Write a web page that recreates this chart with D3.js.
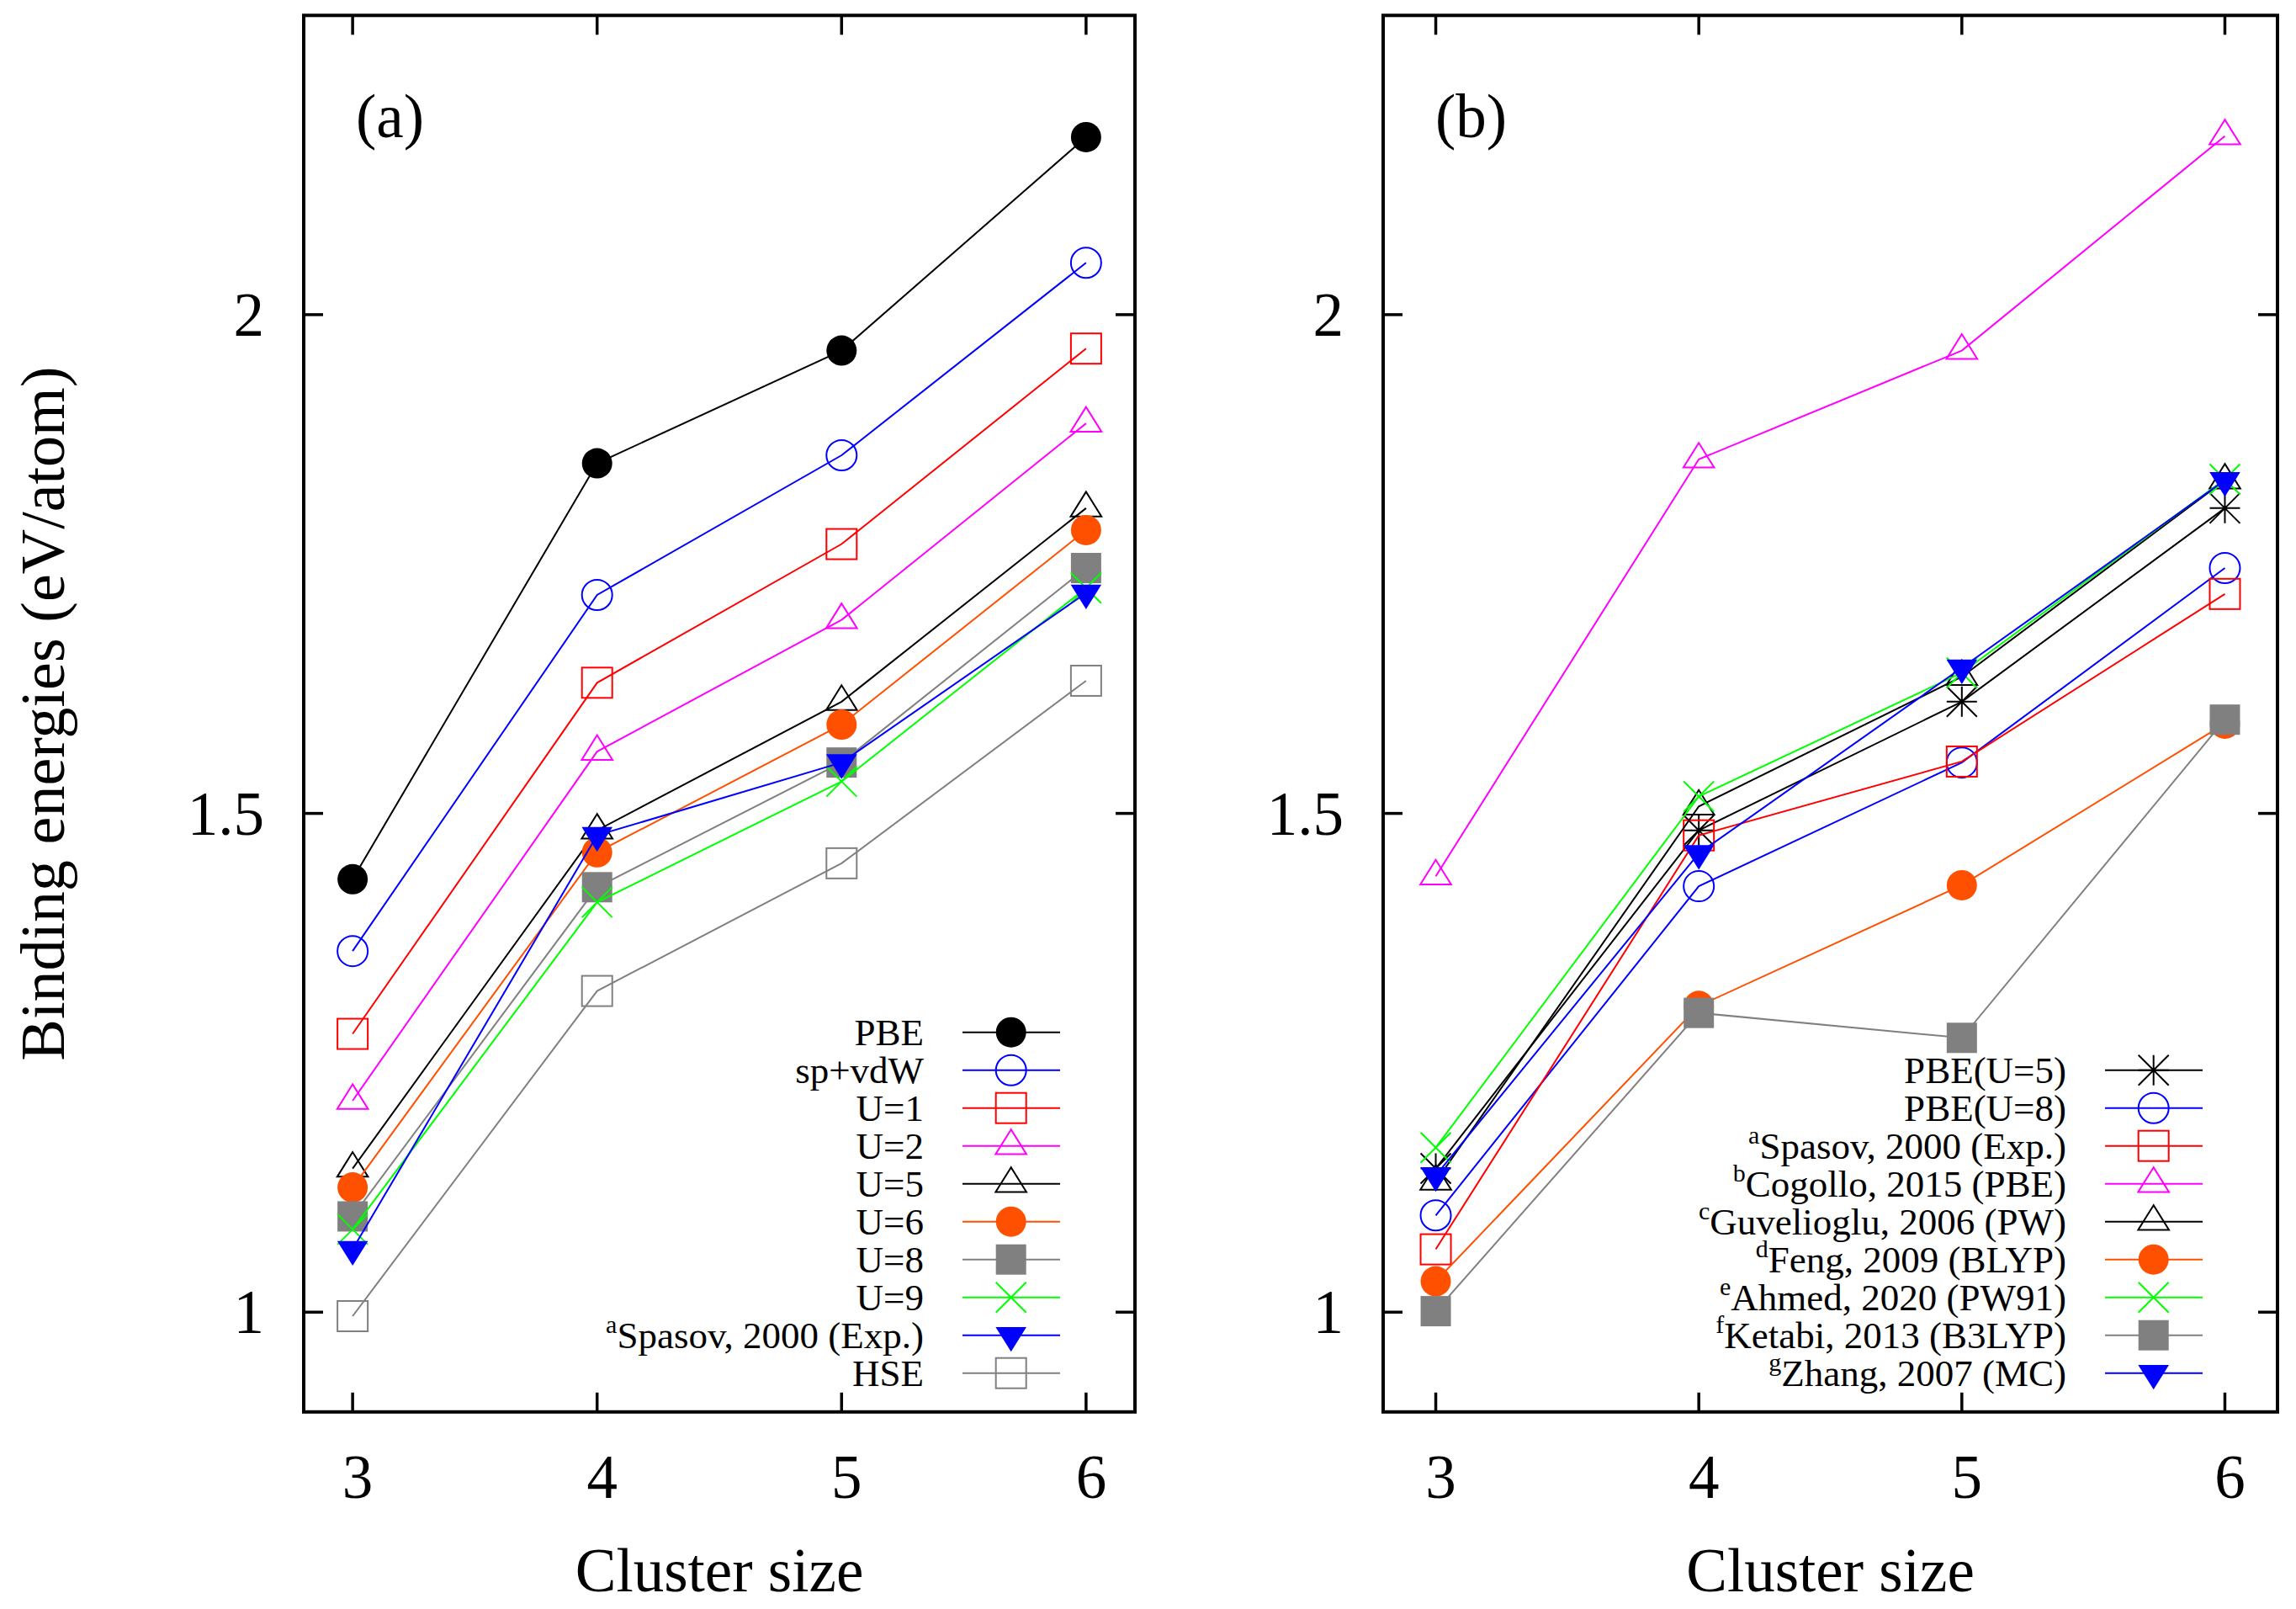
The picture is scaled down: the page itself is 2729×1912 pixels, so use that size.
<!DOCTYPE html>
<html>
<head>
<meta charset="utf-8">
<script src="https://cdn.jsdelivr.net/npm/d3@7"></script>
<style>
  html, body { margin: 0; padding: 0; background: #fff; }
  svg { display: block; }
  text { font-family: "Liberation Serif", "Times New Roman", serif; fill: #000; }
</style>
</head>
<body>
<script>
// ---------------- DATA ----------------
const clusterSizes = [3, 4, 5, 6];
const xTicks = [3, 4, 5, 6];
const yTicks = [1, 1.5, 2];
const yTickLabels = ["1", "1.5", "2"];

// Panel (a)
const pbe      = [1.434, 1.851, 1.964, 2.178];
const spvdw    = [1.362, 1.719, 1.859, 2.052];
const u1       = [1.279, 1.631, 1.770, 1.966];
const u2       = [1.212, 1.562, 1.694, 1.891];
const u5       = [1.144, 1.483, 1.612, 1.806];
const u6       = [1.125, 1.461, 1.589, 1.784];
const u8       = [1.096, 1.426, 1.551, 1.746];
const u9       = [1.083, 1.411, 1.532, 1.726];
const spasovA  = [1.063, 1.478, 1.551, 1.721];
const hse      = [0.996, 1.322, 1.450, 1.633];

// Panel (b)
const pbeU5      = [1.144, 1.483, 1.612, 1.806];
const pbeU8      = [1.097, 1.427, 1.551, 1.746];
const spasovB    = [1.063, 1.478, 1.552, 1.720];
const cogollo    = [1.437, 1.855, 1.964, 2.179];
const guvelioglu = [1.131, 1.507, 1.637, 1.834];
const feng       = [1.031, 1.307, 1.428, 1.590];
const ahmed      = [1.165, 1.517, 1.641, 1.835];
const ketabi     = [1.001, 1.300, 1.275, 1.594];
const zhang      = [1.137, 1.460, 1.646, 1.834];

const seriesA = [
  { sup: "",  label: "PBE",                 values: pbe,     color: "#000000", marker: "circleFilled" },
  { sup: "",  label: "sp+vdW",              values: spvdw,   color: "#0000ff", marker: "circleOpen" },
  { sup: "",  label: "U=1",                 values: u1,      color: "#ff0000", marker: "squareOpen" },
  { sup: "",  label: "U=2",                 values: u2,      color: "#ff00ff", marker: "triUp" },
  { sup: "",  label: "U=5",                 values: u5,      color: "#000000", marker: "triUp" },
  { sup: "",  label: "U=6",                 values: u6,      color: "#ff5000", marker: "circleFilled" },
  { sup: "",  label: "U=8",                 values: u8,      color: "#808080", marker: "squareFilled" },
  { sup: "",  label: "U=9",                 values: u9,      color: "#00ff00", marker: "cross" },
  { sup: "a", label: "Spasov, 2000 (Exp.)", values: spasovA, color: "#0000ff", marker: "triDownFilled" },
  { sup: "",  label: "HSE",                 values: hse,     color: "#808080", marker: "squareOpen" }
];

const seriesB = [
  { sup: "",  label: "PBE(U=5)",              values: pbeU5,      color: "#000000", marker: "star" },
  { sup: "",  label: "PBE(U=8)",              values: pbeU8,      color: "#0000ff", marker: "circleOpen" },
  { sup: "a", label: "Spasov, 2000 (Exp.)",   values: spasovB,    color: "#ff0000", marker: "squareOpen" },
  { sup: "b", label: "Cogollo, 2015 (PBE)",   values: cogollo,    color: "#ff00ff", marker: "triUp" },
  { sup: "c", label: "Guvelioglu, 2006 (PW)", values: guvelioglu, color: "#000000", marker: "triUp" },
  { sup: "d", label: "Feng, 2009 (BLYP)",     values: feng,       color: "#ff5000", marker: "circleFilled" },
  { sup: "e", label: "Ahmed, 2020 (PW91)",    values: ahmed,      color: "#00ff00", marker: "cross" },
  { sup: "f", label: "Ketabi, 2013 (B3LYP)",  values: ketabi,     color: "#808080", marker: "squareFilled" },
  { sup: "g", label: "Zhang, 2007 (MC)",      values: zhang,      color: "#0000ff", marker: "triDownFilled" }
];

// ---------------- LAYOUT ----------------
const W = 2729, H = 1912;
const plotTop = 18.3, plotBottom = 1677.8;
const panels = [
  { left: 361, right: 1349, tag: "(a)", series: seriesA },
  { left: 1644, right: 2707, tag: "(b)", series: seriesB }
];
const tickFont = 73, legendFont = 45, supFont = 30;
const tickLen = 23;
const frameW = 4;

const svg = d3.select("body").append("svg")
  .attr("width", W).attr("height", H)
  .attr("viewBox", `0 0 ${W} ${H}`);
svg.append("rect").attr("width", W).attr("height", H).attr("fill", "#fff");

const y = d3.scaleLinear().domain([0.9, 2.3]).range([plotBottom, plotTop]);

function drawMarker(g, type, color, cx, cy) {
  const r = 18, sw = 2;
  switch (type) {
    case "circleFilled":
      g.append("circle").attr("cx", cx).attr("cy", cy).attr("r", r).attr("fill", color);
      break;
    case "circleOpen":
      g.append("circle").attr("cx", cx).attr("cy", cy).attr("r", r)
        .attr("fill", "none").attr("stroke", color).attr("stroke-width", sw);
      break;
    case "squareOpen":
      g.append("rect").attr("x", cx - r).attr("y", cy - r).attr("width", 2 * r).attr("height", 2 * r)
        .attr("fill", "none").attr("stroke", color).attr("stroke-width", sw);
      break;
    case "squareFilled":
      g.append("rect").attr("x", cx - r).attr("y", cy - r).attr("width", 2 * r).attr("height", 2 * r)
        .attr("fill", color);
      break;
    case "triUp":
      g.append("polygon")
        .attr("points", `${cx},${cy - 19.5} ${cx - 18.3},${cy + 9.8} ${cx + 18.3},${cy + 9.8}`)
        .attr("fill", "none").attr("stroke", color).attr("stroke-width", sw).attr("stroke-linejoin", "miter");
      break;
    case "triDownFilled":
      g.append("polygon")
        .attr("points", `${cx - 18.3},${cy - 9.8} ${cx + 18.3},${cy - 9.8} ${cx},${cy + 19.5}`)
        .attr("fill", color);
      break;
    case "cross":
      g.append("path").attr("d", `M${cx - r},${cy - r}L${cx + r},${cy + r}M${cx - r},${cy + r}L${cx + r},${cy - r}`)
        .attr("stroke", color).attr("stroke-width", sw).attr("fill", "none");
      break;
    case "star":
      g.append("path").attr("d",
        `M${cx - r},${cy - r}L${cx + r},${cy + r}M${cx - r},${cy + r}L${cx + r},${cy - r}` +
        `M${cx},${cy - r}L${cx},${cy + r}M${cx - r},${cy}L${cx + r},${cy}`)
        .attr("stroke", color).attr("stroke-width", sw).attr("fill", "none");
      break;
  }
}

panels.forEach((p, pi) => {
  const x = d3.scaleLinear().domain([2.8, 6.2]).range([p.left, p.right]);
  const g = svg.append("g");

  // ticks (inside, mirrored)
  const tg = g.append("g").attr("stroke", "#000").attr("stroke-width", 3.5);
  xTicks.forEach(t => {
    tg.append("line").attr("x1", x(t)).attr("x2", x(t)).attr("y1", plotBottom).attr("y2", plotBottom - tickLen);
    tg.append("line").attr("x1", x(t)).attr("x2", x(t)).attr("y1", plotTop).attr("y2", plotTop + tickLen);
  });
  yTicks.forEach(t => {
    tg.append("line").attr("x1", p.left).attr("x2", p.left + tickLen).attr("y1", y(t)).attr("y2", y(t));
    tg.append("line").attr("x1", p.right).attr("x2", p.right - tickLen).attr("y1", y(t)).attr("y2", y(t));
  });

  // tick labels
  xTicks.forEach(t => {
    g.append("text").attr("x", x(t) + 6).attr("y", 1780)
      .attr("text-anchor", "middle").attr("font-size", tickFont).text(String(t));
  });
  yTicks.forEach((t, i) => {
    g.append("text").attr("x", p.left - 47).attr("y", y(t) + 25)
      .attr("text-anchor", "end").attr("font-size", tickFont).text(yTickLabels[i]);
  });

  // x-axis title
  g.append("text").attr("x", (p.left + p.right) / 2).attr("y", 1891)
    .attr("text-anchor", "middle").attr("font-size", tickFont).text("Cluster size");

  // panel tag
  g.append("text").attr("x", p.left + 62).attr("y", 163)
    .attr("font-size", tickFont).text(p.tag);

  // series
  const line = d3.line().x(d => x(d[0])).y(d => y(d[1]));
  p.series.forEach(s => {
    const pts = clusterSizes.map((c, i) => [c, s.values[i]]);
    const sg = g.append("g");
    sg.append("path").attr("d", line(pts)).attr("fill", "none")
      .attr("stroke", s.color).attr("stroke-width", 2);
    pts.forEach(d => drawMarker(sg, s.marker, s.color, x(d[0]), y(d[1])));
  });

  // legend
  const n = p.series.length;
  const lastRow = 1631.7, rowGap = 45;
  p.series.forEach((s, i) => {
    const cy = lastRow - (n - 1 - i) * rowGap;
    const lg = g.append("g");
    const txt = lg.append("text").attr("x", p.right - 251).attr("y", cy + 15)
      .attr("text-anchor", "end").attr("font-size", legendFont);
    if (s.sup) {
      txt.append("tspan").attr("font-size", supFont).attr("dy", -18).text(s.sup);
      txt.append("tspan").attr("dy", 18).text(s.label);
    } else {
      txt.text(s.label);
    }
    lg.append("line").attr("x1", p.right - 205).attr("x2", p.right - 89)
      .attr("y1", cy).attr("y2", cy).attr("stroke", s.color).attr("stroke-width", 2);
    drawMarker(lg, s.marker, s.color, p.right - 147.3, cy);
  });

  // frame
  g.append("rect").attr("x", p.left).attr("y", plotTop)
    .attr("width", p.right - p.left).attr("height", plotBottom - plotTop)
    .attr("fill", "none").attr("stroke", "#000").attr("stroke-width", frameW);
});

// y-axis title
svg.append("text")
  .attr("transform", `translate(76, ${(plotTop + plotBottom) / 2}) rotate(-90)`)
  .attr("text-anchor", "middle").attr("font-size", 74)
  .text("Binding energies (eV/atom)");
</script>
</body>
</html>
